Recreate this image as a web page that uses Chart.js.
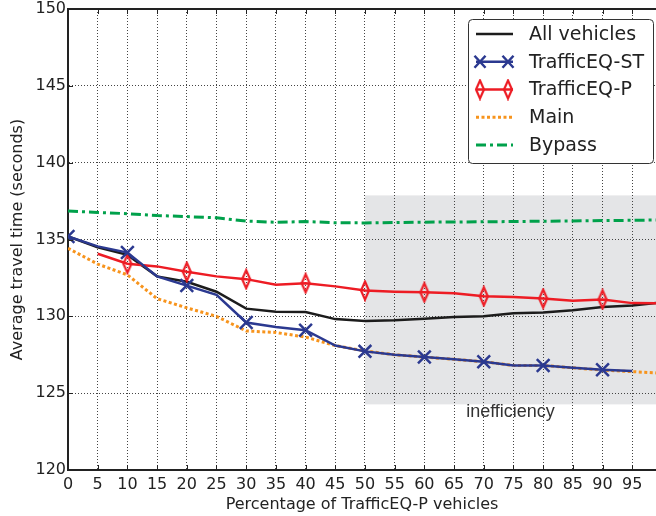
<!DOCTYPE html>
<html>
<head>
<meta charset="utf-8">
<script src="https://cdn.jsdelivr.net/npm/chart.js@4.4.1/dist/chart.umd.min.js"></script>
<style>
  html, body { margin: 0; padding: 0; background: #fff; overflow: hidden; }
  canvas { display: block; }
</style>
</head>
<body>
<canvas id="c" width="656" height="516"></canvas>
<script>
// Share of TrafficEQ-P vehicles (%)
const percentP = [0, 5, 10, 15, 20, 25, 30, 35, 40, 45, 50, 55, 60, 65, 70, 75, 80, 85, 90, 95, 100];

// Average travel time (seconds) per group
const allVehicles = [135.2, 134.5, 134.0, 132.6, 132.25, 131.6, 130.5, 130.3, 130.28, 129.82, 129.7, 129.75, 129.85, 129.95, 130.0, 130.2, 130.25, 130.4, 130.6, 130.7, 130.9];
const trafficEqST = [135.2, 134.55, 134.15, 132.6, 132.0, 131.4, 129.6, 129.3, 129.1, 128.1, 127.72, 127.5, 127.35, 127.2, 127.05, 126.8, 126.8, 126.65, 126.52, 126.45, null];
const trafficEqP  = [null, 134.07, 133.42, 133.25, 132.9, 132.6, 132.42, 132.05, 132.15, 131.95, 131.68, 131.6, 131.56, 131.5, 131.3, 131.26, 131.16, 131.02, 131.1, 130.86, 130.85];
const mainRoute   = [134.43, 133.4, 132.7, 131.15, 130.55, 130.0, 129.05, 128.95, 128.65, 128.1, 127.75, 127.5, 127.35, 127.2, 127.05, 126.8, 126.8, 126.65, 126.5, 126.4, 126.3];
const bypassRoute = [136.85, 136.76, 136.68, 136.56, 136.49, 136.41, 136.2, 136.12, 136.17, 136.09, 136.08, 136.1, 136.13, 136.14, 136.15, 136.17, 136.19, 136.21, 136.23, 136.25, 136.27];

// Axis ticks
const xTicks = [0, 5, 10, 15, 20, 25, 30, 35, 40, 45, 50, 55, 60, 65, 70, 75, 80, 85, 90, 95];
const yTicks = [120, 125, 130, 135, 140, 145, 150];

// Highlighted region and its note
const shadeRange = { xFrom: 50, xTo: 100, yFrom: 124.27, yTo: 137.87 };
const noteLabel = 'inefficiency';
const notePoint = { x: 74.5, y: 123.75 };

const FONT = "'DejaVu Sans', sans-serif";
const C_BLACK = '#1c1c1c', C_BLUE = '#2b3990', C_RED = '#ed1c24', C_ORANGE = '#f7941d', C_GREEN = '#00a14b';

function toPoints(values) {
  return values.map((v, i) => ({ x: percentP[i], y: v }));
}

// Thin hollow diamond used as the TrafficEQ-P marker
function diamondMarker(color) {
  const c = document.createElement('canvas');
  c.width = 12; c.height = 22;
  const g = c.getContext('2d');
  g.strokeStyle = color; g.lineWidth = 2.2;
  g.beginPath();
  g.moveTo(6, 2); g.lineTo(10, 11); g.lineTo(6, 20); g.lineTo(2, 11);
  g.closePath(); g.stroke();
  return c;
}
const diamond = diamondMarker(C_RED);

const markEvery10 = (from) => (ctx) => {
  const p = percentP[ctx.dataIndex];
  return (p % 10 === 0 && p >= from && p < 100) ? 9 : 0;
};

// Grey band marking the inefficient region, drawn under the grid
const shadePlugin = {
  id: 'shade',
  beforeDraw(chart) {
    const { ctx, chartArea, scales: { x, y } } = chart;
    const l = Math.max(x.getPixelForValue(shadeRange.xFrom), chartArea.left);
    const r = Math.min(x.getPixelForValue(shadeRange.xTo), chartArea.right);
    const t = y.getPixelForValue(shadeRange.yTo);
    const b = y.getPixelForValue(shadeRange.yFrom);
    ctx.save();
    ctx.fillStyle = '#e4e5e7';
    ctx.fillRect(l, t, r - l, b - t);
    ctx.restore();
  }
};

// Frame top edge, inward tick marks, note text and legend box
const framePlugin = {
  id: 'frame',
  afterDraw(chart) {
    const { ctx, chartArea, scales: { x, y } } = chart;
    ctx.save();
    ctx.strokeStyle = '#222';
    ctx.lineWidth = 2;
    ctx.beginPath();
    ctx.moveTo(chartArea.left - 1, chartArea.top);
    ctx.lineTo(chartArea.right, chartArea.top);
    ctx.stroke();

    ctx.lineWidth = 1;
    ctx.beginPath();
    xTicks.forEach(v => {
      const px = Math.round(x.getPixelForValue(v)) + 0.5;
      ctx.moveTo(px, chartArea.bottom); ctx.lineTo(px, chartArea.bottom - 5);
      ctx.moveTo(px, chartArea.top); ctx.lineTo(px, chartArea.top + 5);
    });
    yTicks.forEach(v => {
      const py = Math.round(y.getPixelForValue(v)) + 0.5;
      ctx.moveTo(chartArea.left, py); ctx.lineTo(chartArea.left + 5, py);
    });
    ctx.stroke();

    ctx.fillStyle = '#333';
    ctx.font = "18px 'Liberation Sans', Arial, sans-serif";
    ctx.textAlign = 'center';
    ctx.textBaseline = 'middle';
    ctx.fillText(noteLabel, x.getPixelForValue(notePoint.x), y.getPixelForValue(notePoint.y));

    // Legend
    const w = 185, h = 144;
    const x0 = chartArea.right - 3 - w, y0 = chartArea.top + 10;
    ctx.fillStyle = '#fff';
    ctx.strokeStyle = '#333';
    ctx.lineWidth = 1;
    ctx.beginPath();
    ctx.roundRect(x0 + 0.5, y0 + 0.5, w, h, 4);
    ctx.fill(); ctx.stroke();

    ctx.font = '19px ' + FONT;
    ctx.textAlign = 'left';
    chart.data.datasets.forEach((ds, i) => {
      const ly = y0 + 15 + i * 27.75;
      ctx.strokeStyle = ds.borderColor;
      ctx.lineWidth = ds.borderWidth;
      ctx.setLineDash(ds.borderDash || []);
      ctx.beginPath();
      ctx.moveTo(x0 + 8, ly); ctx.lineTo(x0 + 45, ly);
      ctx.stroke();
      ctx.setLineDash([]);
      [x0 + 12, x0 + 40].forEach(mx => {
        if (ds.legendMarker === 'x') {
          ctx.lineWidth = 2.5;
          ctx.beginPath();
          ctx.moveTo(mx - 5.5, ly - 6); ctx.lineTo(mx + 5.5, ly + 6);
          ctx.moveTo(mx + 5.5, ly - 6); ctx.lineTo(mx - 5.5, ly + 6);
          ctx.stroke();
        } else if (ds.legendMarker === 'diamond') {
          ctx.drawImage(diamond, mx - 6, ly - 11);
        }
      });
      ctx.fillStyle = '#222';
      ctx.fillText(ds.label, x0 + 61, ly + 1);
    });
    ctx.restore();
  }
};

new Chart(document.getElementById('c'), {
  type: 'line',
  data: {
    datasets: [
      { label: 'All vehicles', data: toPoints(allVehicles), borderColor: C_BLACK, borderWidth: 2.5, pointRadius: 0, order: 1 },
      { label: 'TrafficEQ-ST', data: toPoints(trafficEqST), borderColor: C_BLUE, borderWidth: 2.5,
        pointStyle: 'crossRot', pointRadius: markEvery10(0), pointBorderWidth: 2.5, pointBorderColor: C_BLUE, legendMarker: 'x', order: 0 },
      { label: 'TrafficEQ-P', data: toPoints(trafficEqP), borderColor: C_RED, borderWidth: 2.5,
        pointStyle: diamond, pointRadius: markEvery10(10), legendMarker: 'diamond', order: 0 },
      { label: 'Main', data: toPoints(mainRoute), borderColor: C_ORANGE, borderWidth: 3, borderDash: [3, 2.5], pointRadius: 0, order: 3 },
      { label: 'Bypass', data: toPoints(bypassRoute), borderColor: C_GREEN, borderWidth: 3, borderDash: [10, 4, 3, 4], pointRadius: 0, order: 2 }
    ]
  },
  options: {
    responsive: false,
    animation: false,
    devicePixelRatio: 1,
    spanGaps: false,
    layout: { autoPadding: false, padding: { top: 9, right: 0, bottom: 0, left: 0 } },
    plugins: { legend: { display: false }, tooltip: { enabled: false } },
    elements: { line: { tension: 0, fill: false }, point: { hoverRadius: 0 } },
    scales: {
      x: {
        type: 'linear', min: 0, max: 99,
        afterBuildTicks: s => { s.ticks = xTicks.map(v => ({ value: v })); },
        afterFit: s => { s.height = 46; s.paddingLeft = 0; s.paddingRight = 0; },
        ticks: { padding: 5, color: '#222', font: { family: FONT, size: 16 }, maxRotation: 0, autoSkip: false },
        grid: { color: '#444', lineWidth: 1, drawTicks: false },
        border: { display: true, color: '#222', width: 2, dash: [1, 2] },
        title: { display: true, text: 'Percentage of TrafficEQ-P vehicles', color: '#222',
                 font: { family: FONT, size: 16 }, padding: { top: 0, bottom: 2 } }
      },
      y: {
        type: 'linear', min: 120, max: 150,
        afterBuildTicks: s => { s.ticks = yTicks.map(v => ({ value: v })); },
        afterFit: s => { s.width = 68; s.paddingTop = 0; s.paddingBottom = 0; },
        ticks: { padding: 2, color: '#222', font: { family: FONT, size: 16 } },
        grid: { color: '#444', lineWidth: 1, drawTicks: false },
        border: { display: true, color: '#222', width: 2, dash: [1, 2] },
        title: { display: true, text: 'Average travel time (seconds)', color: '#222',
                 font: { family: FONT, size: 16 }, padding: { top: 8, bottom: 0 } }
      }
    }
  },
  plugins: [shadePlugin, framePlugin]
});
</script>
</body>
</html>
